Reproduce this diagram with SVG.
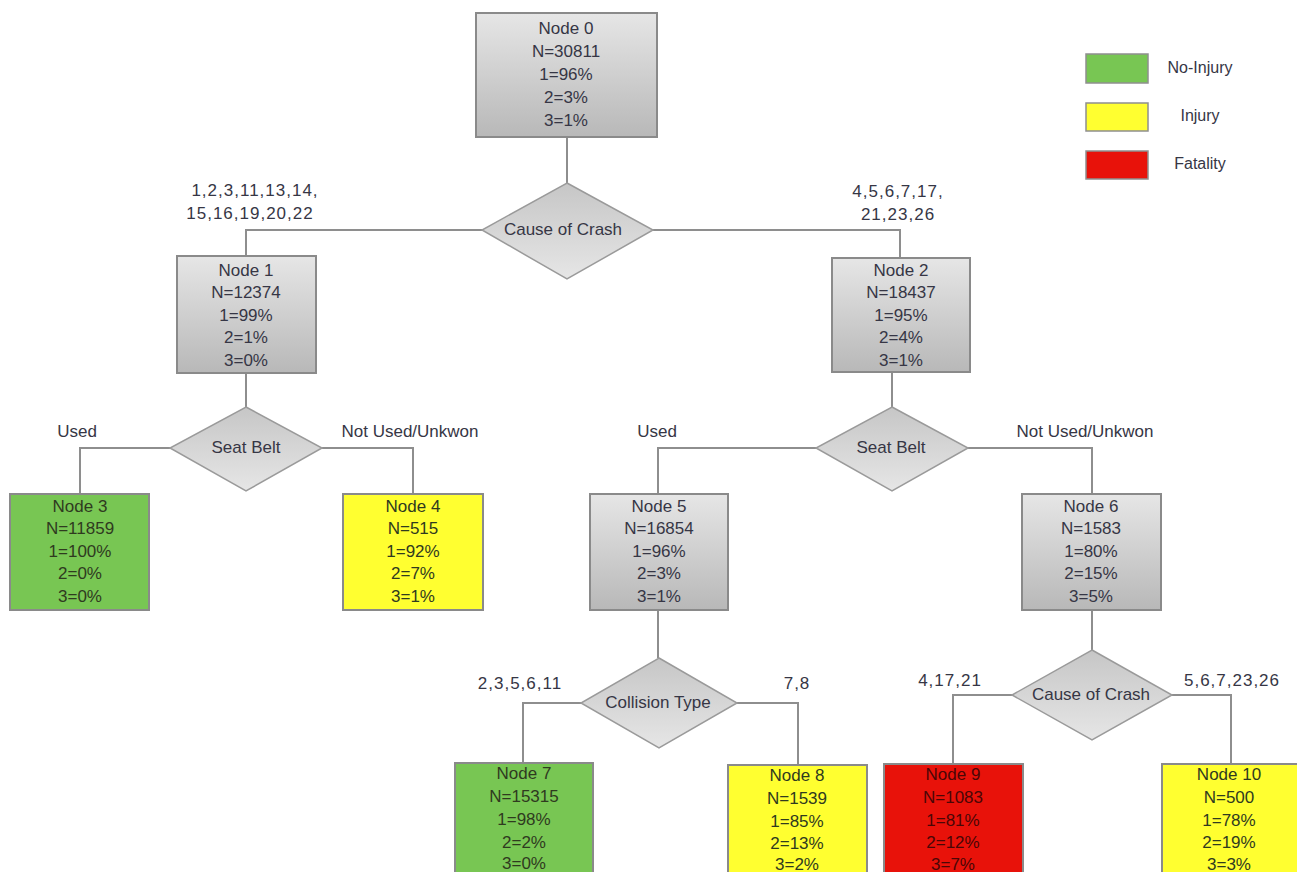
<svg xmlns="http://www.w3.org/2000/svg" width="1297" height="872" viewBox="0 0 1297 872">
<defs>
<linearGradient id="gbox" x1="0" y1="0" x2="0" y2="1">
<stop offset="0" stop-color="#e6e6e6"/>
<stop offset="1" stop-color="#b8b8b8"/>
</linearGradient>
<linearGradient id="gdia" x1="0" y1="0" x2="0" y2="1">
<stop offset="0" stop-color="#c6c6c6"/>
<stop offset="1" stop-color="#e6e6e6"/>
</linearGradient>
</defs>
<style>
text{font-family:"Liberation Sans",Arial,sans-serif;font-size:17px;fill:#363645;text-anchor:middle}
.box{stroke:#8a8a8a;stroke-width:2}
.gray{fill:url(#gbox)}
.green{fill:#78c653}
.yellow{fill:#ffff30}
.red{fill:#e8120a}
.dia{fill:url(#gdia);stroke:#9a9a9a;stroke-width:1.5}
.con{fill:none;stroke:#8e8e8e;stroke-width:2}
.dk{fill:#2f3a1f}
.rd{fill:#4a0606}
.leg{stroke:#8f8f8f;stroke-width:1.5}
.lst{letter-spacing:1px}
</style>
<rect width="1297" height="872" fill="#ffffff"/>

<g id="connectors">
<path class="con" d="M567 137V183"/>
<path class="con" d="M482 230H246V256"/>
<path class="con" d="M653 230H900V258"/>
<path class="con" d="M246 373V407"/>
<path class="con" d="M170 448H80V494"/>
<path class="con" d="M322 448H413V494"/>
<path class="con" d="M892 372V407"/>
<path class="con" d="M816 448H658V494"/>
<path class="con" d="M968 448H1092V494"/>
<path class="con" d="M658 610V658"/>
<path class="con" d="M581 703H523V763"/>
<path class="con" d="M737 703H798V765"/>
<path class="con" d="M1092 610V650"/>
<path class="con" d="M1012 695H953V764"/>
<path class="con" d="M1172 695H1231V764"/>
<text class="lst" x="255" y="196">1,2,3,11,13,14,</text>
<text class="lst" x="250" y="219">15,16,19,20,22</text>
<text class="lst" x="898" y="197">4,5,6,7,17,</text>
<text class="lst" x="898" y="220">21,23,26</text>
<text x="77" y="437">Used</text>
<text x="410" y="437">Not Used/Unkwon</text>
<text x="657" y="437">Used</text>
<text x="1085" y="437">Not Used/Unkwon</text>
<text class="lst" x="520" y="689">2,3,5,6,11</text>
<text class="lst" x="797" y="689">7,8</text>
<text class="lst" x="950" y="686">4,17,21</text>
<text class="lst" x="1232" y="686">5,6,7,23,26</text>
</g>

<g id="node0">
<rect class="box gray" x="476" y="13" width="181" height="124"/>
<text x="566" y="34">Node 0</text><text x="566" y="57">N=30811</text><text x="566" y="80">1=96%</text><text x="566" y="103">2=3%</text><text x="566" y="126">3=1%</text>
</g>
<g id="split0">
<polygon class="dia" points="567,183 653,230 567,279 482,230"/>
<text x="563" y="235">Cause of Crash</text>
</g>

<g id="node1">
<rect class="box gray" x="177" y="256" width="139" height="117"/>
<text x="246" y="276">Node 1</text><text x="246" y="298">N=12374</text><text x="246" y="321">1=99%</text><text x="246" y="343">2=1%</text><text x="246" y="366">3=0%</text>
</g>
<g id="node2">
<rect class="box gray" x="832" y="258" width="138" height="114"/>
<text x="901" y="276">Node 2</text><text x="901" y="298">N=18437</text><text x="901" y="321">1=95%</text><text x="901" y="343">2=4%</text><text x="901" y="366">3=1%</text>
</g>

<g id="split1">
<polygon class="dia" points="246,407 322,448 246,491 170,448"/>
<text x="246" y="453">Seat Belt</text>
</g>
<g id="split2">
<polygon class="dia" points="892,407 968,448 892,491 816,448"/>
<text x="891" y="453">Seat Belt</text>
</g>

<g id="node3">
<rect class="box green" x="10" y="494" width="139" height="116"/>
<text class="dk" x="80" y="512">Node 3</text><text class="dk" x="80" y="534">N=11859</text><text class="dk" x="80" y="557">1=100%</text><text class="dk" x="80" y="579">2=0%</text><text class="dk" x="80" y="602">3=0%</text>
</g>
<g id="node4">
<rect class="box yellow" x="343" y="494" width="140" height="116"/>
<text class="dk" x="413" y="512">Node 4</text><text class="dk" x="413" y="534">N=515</text><text class="dk" x="413" y="557">1=92%</text><text class="dk" x="413" y="579">2=7%</text><text class="dk" x="413" y="602">3=1%</text>
</g>
<g id="node5">
<rect class="box gray" x="590" y="494" width="138" height="116"/>
<text x="659" y="512">Node 5</text><text x="659" y="534">N=16854</text><text x="659" y="557">1=96%</text><text x="659" y="579">2=3%</text><text x="659" y="602">3=1%</text>
</g>
<g id="node6">
<rect class="box gray" x="1022" y="494" width="139" height="116"/>
<text x="1091" y="512">Node 6</text><text x="1091" y="534">N=1583</text><text x="1091" y="557">1=80%</text><text x="1091" y="579">2=15%</text><text x="1091" y="602">3=5%</text>
</g>

<g id="split3">
<polygon class="dia" points="659,658 737,703 659,748 581,703"/>
<text x="658" y="708">Collision Type</text>
</g>
<g id="split4">
<polygon class="dia" points="1092,650 1172,695 1092,740 1012,695"/>
<text x="1091" y="700">Cause of Crash</text>
</g>

<g id="node7">
<rect class="box green" x="455" y="763" width="138" height="120"/>
<text class="dk" x="524" y="779">Node 7</text><text class="dk" x="524" y="802">N=15315</text><text class="dk" x="524" y="825">1=98%</text><text class="dk" x="524" y="848">2=2%</text><text class="dk" x="524" y="869">3=0%</text>
</g>
<g id="node8">
<rect class="box yellow" x="728" y="765" width="139" height="120"/>
<text class="dk" x="797" y="781">Node 8</text><text class="dk" x="797" y="804">N=1539</text><text class="dk" x="797" y="827">1=85%</text><text class="dk" x="797" y="849">2=13%</text><text class="dk" x="797" y="870">3=2%</text>
</g>
<g id="node9">
<rect class="box red" x="884" y="764" width="139" height="120"/>
<text class="rd" x="953" y="780">Node 9</text><text class="rd" x="953" y="803">N=1083</text><text class="rd" x="953" y="826">1=81%</text><text class="rd" x="953" y="848">2=12%</text><text class="rd" x="953" y="870">3=7%</text>
</g>
<g id="node10">
<rect class="box yellow" x="1162" y="764" width="139" height="120"/>
<text class="dk" x="1229" y="780">Node 10</text><text class="dk" x="1229" y="803">N=500</text><text class="dk" x="1229" y="826">1=78%</text><text class="dk" x="1229" y="848">2=19%</text><text class="dk" x="1229" y="870">3=3%</text>
</g>

<g id="legend">
<rect class="leg green" x="1086" y="54" width="62" height="29"/>
<rect class="leg yellow" x="1086" y="103" width="62" height="28"/>
<rect class="leg red" x="1086" y="151" width="62" height="28"/>
<text x="1200" y="73" style="font-size:16px">No-Injury</text>
<text x="1200" y="121" style="font-size:16px">Injury</text>
<text x="1200" y="169" style="font-size:16px">Fatality</text>
</g>
</svg>
